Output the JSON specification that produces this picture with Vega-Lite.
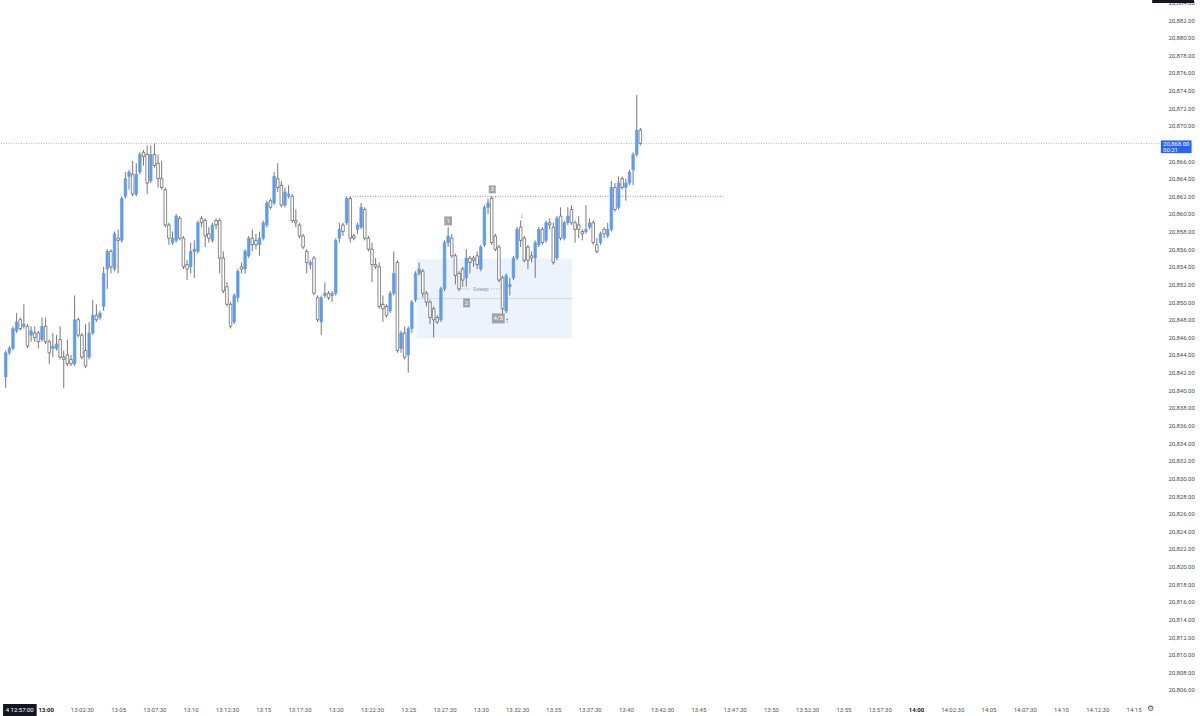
{
  "$schema": "https://vega.github.io/schema/vega-lite/v6.json",
  "width": 1162,
  "height": 703,
  "autosize": "none",
  "padding": {"left": 0, "top": 0, "right": 38, "bottom": 13},
  "background": "#ffffff",
  "config": {
    "view": {"stroke": null},
    "font": "Roboto",
    "axis": {"labelOverlap": false, "labelFlush": false, "labelBound": false, "labelFontSize": 6, "ticks": false, "domain": false, "grid": false, "title": null},
    "axisX": {"labelPadding": 3},
    "axisY": {"labelPadding": 6}
  },
  "data": {
    "format": {"parse": {"t": "utc:'%H:%M:%S'"}},
    "values": [
      {"t":"12:57:15","o":20841.5,"h":20844.5,"l":20840.25,"c":20844.25},
      {"t":"12:57:30","o":20844.25,"h":20845,"l":20844,"c":20844.75},
      {"t":"12:57:45","o":20844.75,"h":20847.25,"l":20844.5,"c":20847},
      {"t":"12:58:00","o":20846.75,"h":20848.75,"l":20846.5,"c":20847.75},
      {"t":"12:58:15","o":20848,"h":20848.25,"l":20846.75,"c":20847},
      {"t":"12:58:30","o":20847.25,"h":20849.75,"l":20847,"c":20847.5},
      {"t":"12:58:45","o":20847.25,"h":20847.5,"l":20844.75,"c":20845},
      {"t":"12:59:00","o":20846.25,"h":20847.25,"l":20845.5,"c":20846.75},
      {"t":"12:59:15","o":20846.5,"h":20847.25,"l":20845.5,"c":20846},
      {"t":"12:59:30","o":20846.5,"h":20846.75,"l":20844.75,"c":20845.5},
      {"t":"12:59:45","o":20845.75,"h":20848.25,"l":20845.5,"c":20847.25},
      {"t":"13:00:00","o":20847.25,"h":20848.25,"l":20845.25,"c":20845.5},
      {"t":"13:00:15","o":20845.5,"h":20845.75,"l":20843,"c":20844.25},
      {"t":"13:00:30","o":20844.75,"h":20846.5,"l":20843.75,"c":20845},
      {"t":"13:00:45","o":20844.75,"h":20846.25,"l":20844.5,"c":20845.25},
      {"t":"13:01:00","o":20845.75,"h":20847.25,"l":20843.5,"c":20843.75},
      {"t":"13:01:15","o":20843.75,"h":20844.5,"l":20840.25,"c":20843.5},
      {"t":"13:01:30","o":20844,"h":20845.75,"l":20842.75,"c":20843},
      {"t":"13:01:45","o":20843.5,"h":20844,"l":20842.75,"c":20843},
      {"t":"13:02:00","o":20843,"h":20850.75,"l":20842.75,"c":20848},
      {"t":"13:02:15","o":20848,"h":20848.25,"l":20846,"c":20846.25},
      {"t":"13:02:30","o":20846.25,"h":20846.5,"l":20843.5,"c":20843.75},
      {"t":"13:02:45","o":20844.5,"h":20847.5,"l":20842.5,"c":20842.75},
      {"t":"13:03:00","o":20843.75,"h":20847.75,"l":20843.5,"c":20846.5},
      {"t":"13:03:15","o":20846.5,"h":20850.25,"l":20846.25,"c":20848.5},
      {"t":"13:03:30","o":20848.5,"h":20849.75,"l":20847.75,"c":20848},
      {"t":"13:03:45","o":20848.25,"h":20849,"l":20848,"c":20848.75},
      {"t":"13:04:00","o":20849.5,"h":20854,"l":20849,"c":20853.25},
      {"t":"13:04:15","o":20853.75,"h":20856,"l":20851.5,"c":20855.75},
      {"t":"13:04:30","o":20855.75,"h":20856,"l":20853.25,"c":20854},
      {"t":"13:04:45","o":20853.75,"h":20858,"l":20853.5,"c":20857.75},
      {"t":"13:05:00","o":20857.25,"h":20858.25,"l":20853.25,"c":20857},
      {"t":"13:05:15","o":20857,"h":20862,"l":20856.75,"c":20861.75},
      {"t":"13:05:30","o":20862,"h":20864.75,"l":20861.75,"c":20864},
      {"t":"13:05:45","o":20864.25,"h":20865,"l":20862.75,"c":20864.75},
      {"t":"13:06:00","o":20864.5,"h":20866,"l":20862,"c":20862.25},
      {"t":"13:06:15","o":20862.25,"h":20865.75,"l":20862,"c":20864.5},
      {"t":"13:06:30","o":20864.75,"h":20867,"l":20864.5,"c":20866.75},
      {"t":"13:06:45","o":20867,"h":20867.25,"l":20865.5,"c":20866.5},
      {"t":"13:07:00","o":20866.75,"h":20867.75,"l":20862.25,"c":20863.5},
      {"t":"13:07:15","o":20863.75,"h":20867.75,"l":20863.5,"c":20866.75},
      {"t":"13:07:30","o":20866.75,"h":20868,"l":20865.25,"c":20865.5},
      {"t":"13:07:45","o":20865.75,"h":20866.75,"l":20863,"c":20864},
      {"t":"13:08:00","o":20864,"h":20866,"l":20862.75,"c":20863},
      {"t":"13:08:15","o":20862.75,"h":20863,"l":20858.5,"c":20858.75},
      {"t":"13:08:30","o":20858.75,"h":20859,"l":20856.5,"c":20857.25},
      {"t":"13:08:45","o":20856.75,"h":20858,"l":20856.5,"c":20857.25},
      {"t":"13:09:00","o":20857,"h":20860,"l":20856.75,"c":20859.75},
      {"t":"13:09:15","o":20859.5,"h":20859.75,"l":20857,"c":20857.25},
      {"t":"13:09:30","o":20857.25,"h":20857.5,"l":20853.75,"c":20854},
      {"t":"13:09:45","o":20854.25,"h":20854.75,"l":20852.5,"c":20853.75},
      {"t":"13:10:00","o":20854,"h":20856.75,"l":20853.25,"c":20855.75},
      {"t":"13:10:15","o":20855.75,"h":20857,"l":20852.75,"c":20856},
      {"t":"13:10:30","o":20855.75,"h":20859.25,"l":20855.5,"c":20859},
      {"t":"13:10:45","o":20859.5,"h":20859.75,"l":20858.5,"c":20859},
      {"t":"13:11:00","o":20859.25,"h":20859.5,"l":20856.25,"c":20857.5},
      {"t":"13:11:15","o":20857.75,"h":20858.5,"l":20856.75,"c":20857.25},
      {"t":"13:11:30","o":20857,"h":20859,"l":20856.75,"c":20858.75},
      {"t":"13:11:45","o":20859.25,"h":20859.5,"l":20858.25,"c":20858.75},
      {"t":"13:12:00","o":20859.25,"h":20859.5,"l":20853.25,"c":20855},
      {"t":"13:12:15","o":20855,"h":20855.75,"l":20851,"c":20851.25},
      {"t":"13:12:30","o":20851.75,"h":20852.25,"l":20849.5,"c":20849.75},
      {"t":"13:12:45","o":20849.75,"h":20850,"l":20847,"c":20847.25},
      {"t":"13:13:00","o":20847.75,"h":20851,"l":20847.5,"c":20850.75},
      {"t":"13:13:15","o":20850.5,"h":20853.75,"l":20850,"c":20853.5},
      {"t":"13:13:30","o":20854,"h":20854.5,"l":20853.25,"c":20853.75},
      {"t":"13:13:45","o":20853.75,"h":20856,"l":20853.25,"c":20855.75},
      {"t":"13:14:00","o":20855.25,"h":20857.5,"l":20855,"c":20857.25},
      {"t":"13:14:15","o":20857.25,"h":20858.25,"l":20855.75,"c":20856.5},
      {"t":"13:14:30","o":20857,"h":20857.75,"l":20856,"c":20856.5},
      {"t":"13:14:45","o":20856.5,"h":20858,"l":20855.25,"c":20857.25},
      {"t":"13:15:00","o":20857.25,"h":20859.25,"l":20857,"c":20859},
      {"t":"13:15:15","o":20858.75,"h":20861.5,"l":20858.5,"c":20861.25},
      {"t":"13:15:30","o":20861.5,"h":20861.75,"l":20860.5,"c":20860.75},
      {"t":"13:15:45","o":20861.25,"h":20864.75,"l":20861,"c":20864.25},
      {"t":"13:16:00","o":20864,"h":20865.75,"l":20862.5,"c":20863},
      {"t":"13:16:15","o":20863.25,"h":20863.75,"l":20860.75,"c":20861},
      {"t":"13:16:30","o":20861,"h":20863,"l":20860.75,"c":20862.5},
      {"t":"13:16:45","o":20862,"h":20863.25,"l":20861.75,"c":20862.25},
      {"t":"13:17:00","o":20862,"h":20862.25,"l":20859,"c":20859.25},
      {"t":"13:17:15","o":20859.25,"h":20860.5,"l":20858.5,"c":20859},
      {"t":"13:17:30","o":20858.75,"h":20859,"l":20857.25,"c":20857.5},
      {"t":"13:17:45","o":20857.5,"h":20857.75,"l":20856,"c":20856.25},
      {"t":"13:18:00","o":20855.75,"h":20856,"l":20853.25,"c":20854.5},
      {"t":"13:18:15","o":20854.25,"h":20854.75,"l":20853.75,"c":20854.5},
      {"t":"13:18:30","o":20855,"h":20855.25,"l":20850.75,"c":20851},
      {"t":"13:18:45","o":20850.5,"h":20850.75,"l":20847.75,"c":20848},
      {"t":"13:19:00","o":20847.75,"h":20850.75,"l":20846.25,"c":20850.5},
      {"t":"13:19:15","o":20850.75,"h":20852.25,"l":20850.5,"c":20851},
      {"t":"13:19:30","o":20851,"h":20851.25,"l":20850.25,"c":20850.5},
      {"t":"13:19:45","o":20850.75,"h":20851.25,"l":20850,"c":20851},
      {"t":"13:20:00","o":20851,"h":20857.25,"l":20850.75,"c":20857},
      {"t":"13:20:15","o":20857.25,"h":20859,"l":20856.75,"c":20858.25},
      {"t":"13:20:30","o":20858.75,"h":20859,"l":20857.5,"c":20858},
      {"t":"13:20:45","o":20859,"h":20862,"l":20858.75,"c":20861.75},
      {"t":"13:21:00","o":20861.75,"h":20862,"l":20856.75,"c":20857.25},
      {"t":"13:21:15","o":20857.5,"h":20857.75,"l":20857,"c":20857.25},
      {"t":"13:21:30","o":20858.25,"h":20859,"l":20857.75,"c":20858.75},
      {"t":"13:21:45","o":20858.5,"h":20861.25,"l":20858.25,"c":20860.75},
      {"t":"13:22:00","o":20860.5,"h":20860.75,"l":20857,"c":20857.25},
      {"t":"13:22:15","o":20857.25,"h":20857.5,"l":20855.75,"c":20856},
      {"t":"13:22:30","o":20856,"h":20856.75,"l":20852.25,"c":20854.25},
      {"t":"13:22:45","o":20854.25,"h":20855,"l":20853.75,"c":20854},
      {"t":"13:23:00","o":20854,"h":20854.5,"l":20849.25,"c":20849.5},
      {"t":"13:23:15","o":20849.75,"h":20850.75,"l":20847.75,"c":20849.25},
      {"t":"13:23:30","o":20849.5,"h":20849.75,"l":20848.25,"c":20848.5},
      {"t":"13:23:45","o":20849,"h":20851.25,"l":20848.75,"c":20851},
      {"t":"13:24:00","o":20851,"h":20855.75,"l":20850.75,"c":20853.25},
      {"t":"13:24:15","o":20854.5,"h":20854.75,"l":20844.25,"c":20844.5},
      {"t":"13:24:30","o":20844.75,"h":20846.75,"l":20844.25,"c":20846.5},
      {"t":"13:24:45","o":20846.5,"h":20847.25,"l":20843.5,"c":20843.75},
      {"t":"13:25:00","o":20844,"h":20847.25,"l":20842,"c":20847},
      {"t":"13:25:15","o":20847,"h":20850.25,"l":20846.5,"c":20850},
      {"t":"13:25:30","o":20850.25,"h":20853.5,"l":20850,"c":20853.25},
      {"t":"13:25:45","o":20853.25,"h":20854.5,"l":20853,"c":20853.75},
      {"t":"13:26:00","o":20853.5,"h":20853.75,"l":20850.5,"c":20851},
      {"t":"13:26:15","o":20851,"h":20851.25,"l":20849.5,"c":20850},
      {"t":"13:26:30","o":20850,"h":20850.25,"l":20847.5,"c":20848.25},
      {"t":"13:26:45","o":20849.25,"h":20849.5,"l":20846,"c":20848},
      {"t":"13:27:00","o":20848.25,"h":20848.5,"l":20847.5,"c":20847.75},
      {"t":"13:27:15","o":20848,"h":20851.75,"l":20847.75,"c":20851.5},
      {"t":"13:27:30","o":20851.5,"h":20857,"l":20851.25,"c":20856.75},
      {"t":"13:27:45","o":20856.75,"h":20858.5,"l":20856.25,"c":20857.5},
      {"t":"13:28:00","o":20857.25,"h":20857.75,"l":20855,"c":20855.25},
      {"t":"13:28:15","o":20855.25,"h":20855.5,"l":20852,"c":20853},
      {"t":"13:28:30","o":20853.25,"h":20853.5,"l":20851.25,"c":20851.5},
      {"t":"13:28:45","o":20853.75,"h":20854,"l":20851.75,"c":20852.5},
      {"t":"13:29:00","o":20852.75,"h":20856,"l":20851.75,"c":20855},
      {"t":"13:29:15","o":20855,"h":20855.25,"l":20853.25,"c":20854.5},
      {"t":"13:29:30","o":20855,"h":20855.25,"l":20854,"c":20854.75},
      {"t":"13:29:45","o":20855.25,"h":20855.75,"l":20853.75,"c":20854.25},
      {"t":"13:30:00","o":20853.75,"h":20856.5,"l":20853.5,"c":20856.25},
      {"t":"13:30:15","o":20856.5,"h":20861,"l":20856.25,"c":20860.75},
      {"t":"13:30:30","o":20860.75,"h":20861.75,"l":20860,"c":20861.25},
      {"t":"13:30:45","o":20861.75,"h":20862,"l":20856.5,"c":20856.75},
      {"t":"13:31:00","o":20857.5,"h":20857.75,"l":20855.75,"c":20856},
      {"t":"13:31:15","o":20856.25,"h":20856.5,"l":20852.25,"c":20852.5},
      {"t":"13:31:30","o":20852.75,"h":20853,"l":20848.5,"c":20849.25},
      {"t":"13:31:45","o":20849,"h":20853.25,"l":20848.75,"c":20853},
      {"t":"13:32:00","o":20851.75,"h":20852.75,"l":20850.75,"c":20852},
      {"t":"13:32:15","o":20852.75,"h":20855.25,"l":20852.5,"c":20855},
      {"t":"13:32:30","o":20855,"h":20858.5,"l":20854.75,"c":20858.25},
      {"t":"13:32:45","o":20858.5,"h":20859.25,"l":20856.25,"c":20857},
      {"t":"13:33:00","o":20857.25,"h":20857.5,"l":20854.5,"c":20854.75},
      {"t":"13:33:15","o":20856.25,"h":20856.5,"l":20853.75,"c":20854.75},
      {"t":"13:33:30","o":20855.25,"h":20855.75,"l":20854.5,"c":20855},
      {"t":"13:33:45","o":20855,"h":20857,"l":20852.75,"c":20856.75},
      {"t":"13:34:00","o":20856.5,"h":20858.5,"l":20856.25,"c":20858.25},
      {"t":"13:34:15","o":20858.25,"h":20858.5,"l":20856.5,"c":20856.75},
      {"t":"13:34:30","o":20857,"h":20859.25,"l":20856.75,"c":20859},
      {"t":"13:34:45","o":20859,"h":20859.5,"l":20858.25,"c":20858.75},
      {"t":"13:35:00","o":20858.5,"h":20859,"l":20854.25,"c":20854.5},
      {"t":"13:35:15","o":20855,"h":20859.75,"l":20854.75,"c":20859.5},
      {"t":"13:35:30","o":20859.75,"h":20860.75,"l":20857,"c":20857.25},
      {"t":"13:35:45","o":20857.25,"h":20859.25,"l":20857,"c":20859},
      {"t":"13:36:00","o":20859,"h":20860.75,"l":20858.75,"c":20859.75},
      {"t":"13:36:15","o":20860.5,"h":20861,"l":20858.75,"c":20859},
      {"t":"13:36:30","o":20859,"h":20859.25,"l":20856.75,"c":20858.25},
      {"t":"13:36:45","o":20858.75,"h":20859.75,"l":20857.25,"c":20858.25},
      {"t":"13:37:00","o":20858,"h":20858.25,"l":20857,"c":20857.75},
      {"t":"13:37:15","o":20858,"h":20861,"l":20857.75,"c":20858.25},
      {"t":"13:37:30","o":20858.5,"h":20859.5,"l":20858.25,"c":20859},
      {"t":"13:37:45","o":20859,"h":20859.25,"l":20856.5,"c":20856.75},
      {"t":"13:38:00","o":20856.5,"h":20857.25,"l":20855.5,"c":20855.75},
      {"t":"13:38:15","o":20856.75,"h":20858,"l":20856.5,"c":20857.75},
      {"t":"13:38:30","o":20858.25,"h":20858.5,"l":20857.25,"c":20857.75},
      {"t":"13:38:45","o":20857.5,"h":20859,"l":20857.25,"c":20858.25},
      {"t":"13:39:00","o":20858.25,"h":20863.75,"l":20858,"c":20863},
      {"t":"13:39:15","o":20863,"h":20863.5,"l":20860.25,"c":20860.5},
      {"t":"13:39:30","o":20860.75,"h":20864.25,"l":20860.5,"c":20863.5},
      {"t":"13:39:45","o":20864,"h":20864.25,"l":20862.75,"c":20863},
      {"t":"13:40:00","o":20863,"h":20864,"l":20861.5,"c":20863.5},
      {"t":"13:40:15","o":20863.5,"h":20865,"l":20863.25,"c":20864.75},
      {"t":"13:40:30","o":20865,"h":20867,"l":20863.25,"c":20866.75},
      {"t":"13:40:45","o":20866.75,"h":20873.5,"l":20866.5,"c":20869.5},
      {"t":"13:41:00","o":20869.5,"h":20869.75,"l":20867.75,"c":20868}
    ]
  },
  "layer": [
    {
      "data": {
        "format": {"parse": {"t": "utc:'%H:%M:%S'", "t2": "utc:'%H:%M:%S'"}},
        "values": [{"t": "13:25:34", "t2": "13:36:18", "p": 20845.9, "p2": 20854.9}]
      },
      "mark": {"type": "rect", "fill": "#ecf3fd"},
      "encoding": {
        "x": {
          "field": "t",
          "type": "temporal",
          "title": null,
          "scale": {
            "type": "utc",
            "domain": [
              {"year": 1900, "hours": 12, "minutes": 57, "seconds": 12, "utc": true},
              {"year": 1900, "hours": 14, "minutes": 16, "seconds": 37, "utc": true}
            ]
          },
          "axis": {
            "orient": "bottom",
            "tickCount": 500,
            "labelOverlap": false,
            "labelColor": {"condition": {"test": "utcminutes(datum.value) == 0 && utcseconds(datum.value) == 0", "value": "#131722"}, "value": "#555555"},
            "labelFontWeight": {"condition": {"test": "utcminutes(datum.value) == 0 && utcseconds(datum.value) == 0", "value": "bold"}, "value": "normal"},
            "labelExpr": "utcFormat(datum.value, utcseconds(datum.value) ? '%H:%M:%S' : '%H:%M')",
            "values": [
              {"year": 1900, "hours": 13, "minutes": 0, "utc": true},
              {"year": 1900, "hours": 13, "minutes": 2, "seconds": 30, "utc": true},
              {"year": 1900, "hours": 13, "minutes": 5, "utc": true},
              {"year": 1900, "hours": 13, "minutes": 7, "seconds": 30, "utc": true},
              {"year": 1900, "hours": 13, "minutes": 10, "utc": true},
              {"year": 1900, "hours": 13, "minutes": 12, "seconds": 30, "utc": true},
              {"year": 1900, "hours": 13, "minutes": 15, "utc": true},
              {"year": 1900, "hours": 13, "minutes": 17, "seconds": 30, "utc": true},
              {"year": 1900, "hours": 13, "minutes": 20, "utc": true},
              {"year": 1900, "hours": 13, "minutes": 22, "seconds": 30, "utc": true},
              {"year": 1900, "hours": 13, "minutes": 25, "utc": true},
              {"year": 1900, "hours": 13, "minutes": 27, "seconds": 30, "utc": true},
              {"year": 1900, "hours": 13, "minutes": 30, "utc": true},
              {"year": 1900, "hours": 13, "minutes": 32, "seconds": 30, "utc": true},
              {"year": 1900, "hours": 13, "minutes": 35, "utc": true},
              {"year": 1900, "hours": 13, "minutes": 37, "seconds": 30, "utc": true},
              {"year": 1900, "hours": 13, "minutes": 40, "utc": true},
              {"year": 1900, "hours": 13, "minutes": 42, "seconds": 30, "utc": true},
              {"year": 1900, "hours": 13, "minutes": 45, "utc": true},
              {"year": 1900, "hours": 13, "minutes": 47, "seconds": 30, "utc": true},
              {"year": 1900, "hours": 13, "minutes": 50, "utc": true},
              {"year": 1900, "hours": 13, "minutes": 52, "seconds": 30, "utc": true},
              {"year": 1900, "hours": 13, "minutes": 55, "utc": true},
              {"year": 1900, "hours": 13, "minutes": 57, "seconds": 30, "utc": true},
              {"year": 1900, "hours": 14, "minutes": 0, "utc": true},
              {"year": 1900, "hours": 14, "minutes": 2, "seconds": 30, "utc": true},
              {"year": 1900, "hours": 14, "minutes": 5, "utc": true},
              {"year": 1900, "hours": 14, "minutes": 7, "seconds": 30, "utc": true},
              {"year": 1900, "hours": 14, "minutes": 10, "utc": true},
              {"year": 1900, "hours": 14, "minutes": 12, "seconds": 30, "utc": true},
              {"year": 1900, "hours": 14, "minutes": 15, "utc": true}
            ]
          }
        },
        "x2": {"field": "t2"},
        "y": {
          "field": "p",
          "type": "quantitative",
          "title": null,
          "scale": {"domain": [20804.52, 20884.27], "nice": false, "zero": false},
          "axis": {
            "orient": "right",
            "tickCount": 500,
            "labelOverlap": false,
            "labelColor": "#4a4a4a",
            "format": ",.2f",
            "values": [20806, 20808, 20810, 20812, 20814, 20816, 20818, 20820, 20822, 20824, 20826, 20828, 20830, 20832, 20834, 20836, 20838, 20840, 20842, 20844, 20846, 20848, 20850, 20852, 20854, 20856, 20858, 20860, 20862, 20864, 20866, 20870, 20872, 20874, 20876, 20878, 20880, 20882, 20884]
          }
        },
        "y2": {"field": "p2"}
      }
    },
    {
      "data": {
        "format": {"parse": {"t": "utc:'%H:%M:%S'", "t2": "utc:'%H:%M:%S'"}},
        "values": [{"t": "13:25:34", "t2": "13:36:18", "p": 20850.4}]
      },
      "mark": {"type": "rule", "color": "#c3cad6", "strokeWidth": 0.6},
      "encoding": {
        "x": {"field": "t", "type": "temporal", "title": null},
        "x2": {"field": "t2"},
        "y": {"field": "p", "type": "quantitative", "title": null}
      }
    },
    {
      "data": {"values": [{"p": 20868}]},
      "mark": {"type": "rule", "color": "#a9bbec", "strokeWidth": 1, "strokeDash": [1, 1.5]},
      "encoding": {
        "y": {"field": "p", "type": "quantitative", "title": null}
      }
    },
    {
      "data": {
        "format": {"parse": {"t": "utc:'%H:%M:%S'", "t2": "utc:'%H:%M:%S'"}},
        "values": [{"t": "13:20:59", "t2": "13:46:49", "p": 20862}]
      },
      "mark": {"type": "rule", "color": "#7598ea", "strokeWidth": 1, "strokeDash": [1, 1.5]},
      "encoding": {
        "x": {"field": "t", "type": "temporal", "title": null},
        "x2": {"field": "t2"},
        "y": {"field": "p", "type": "quantitative", "title": null}
      }
    },
    {
      "data": {
        "format": {"parse": {"t": "utc:'%H:%M:%S'", "t2": "utc:'%H:%M:%S'"}},
        "values": [
          {"t": "13:28:38", "t2": "13:29:17", "p": 20851.5},
          {"t": "13:30:43", "t2": "13:31:22", "p": 20851.5}
        ]
      },
      "mark": {"type": "rule", "color": "#9aa0a6", "strokeWidth": 0.8, "strokeDash": [1, 1.5]},
      "encoding": {
        "x": {"field": "t", "type": "temporal", "title": null},
        "x2": {"field": "t2"},
        "y": {"field": "p", "type": "quantitative", "title": null}
      }
    },
    {
      "mark": {"type": "rule", "color": "#555555", "strokeWidth": 0.8},
      "encoding": {
        "x": {"field": "t", "type": "temporal", "title": null},
        "y": {"field": "l", "type": "quantitative", "title": null},
        "y2": {"field": "h"}
      }
    },
    {
      "mark": {"type": "bar", "width": 2.6, "strokeWidth": 0.6},
      "encoding": {
        "x": {"field": "t", "type": "temporal", "title": null},
        "y": {"field": "o", "type": "quantitative", "title": null},
        "y2": {"field": "c"},
        "fill": {"condition": {"test": "datum.c > datum.o", "value": "#5b9bf0"}, "value": "#ffffff"},
        "stroke": {"condition": {"test": "datum.c > datum.o", "value": "#5b9bf0"}, "value": "#3c3c3c"}
      }
    },
    {
      "data": {
        "format": {"parse": {"t": "utc:'%H:%M:%S'", "t2": "utc:'%H:%M:%S'"}},
        "values": [
          {"t": "13:27:29", "t2": "13:28:01", "p": 20858.7, "p2": 20859.72, "col": "#a3a3a3"},
          {"t": "13:28:47", "t2": "13:29:15", "p": 20849.4, "p2": 20850.42, "col": "#a3a3a3"},
          {"t": "13:30:33", "t2": "13:31:02", "p": 20862.33, "p2": 20863.24, "col": "#a3a3a3"},
          {"t": "13:30:46", "t2": "13:31:39", "p": 20847.58, "p2": 20848.72, "col": "#a3a3a3"},
          {"t": "14:16:53", "t2": "14:19:00", "p": 20866.9, "p2": 20868.34, "col": "#2962ff"},
          {"t": "14:16:17", "t2": "14:19:10", "p": 20883.93, "p2": 20886, "col": "#131722"},
          {"t": "12:57:04", "t2": "12:59:23", "p": 20802.5, "p2": 20804.41, "col": "#131722"}
        ]
      },
      "mark": {"type": "rect"},
      "encoding": {
        "x": {"field": "t", "type": "temporal", "title": null},
        "x2": {"field": "t2"},
        "y": {"field": "p", "type": "quantitative", "title": null},
        "y2": {"field": "p2"},
        "color": {"field": "col", "type": "nominal", "scale": null}
      }
    },
    {
      "data": {
        "format": {"parse": {"t": "utc:'%H:%M:%S'"}},
        "values": [
          {"t": "13:27:45", "p": 20859.21, "label": "1", "col": "#ffffff", "size": 6},
          {"t": "13:29:01", "p": 20849.91, "label": "2", "col": "#ffffff", "size": 6},
          {"t": "13:30:47", "p": 20862.78, "label": "3", "col": "#ffffff", "size": 6},
          {"t": "13:31:12", "p": 20848.15, "label": "4/5", "col": "#ffffff", "size": 6},
          {"t": "13:30:00", "p": 20851.5, "label": "Sweep", "col": "#9aa0a6", "size": 5.5},
          {"t": "13:32:49", "p": 20859.8, "label": "↓", "col": "#f23645", "size": 8},
          {"t": "13:31:47", "p": 20847.9, "label": "↑", "col": "#2962ff", "size": 8},
          {"t": "14:16:09", "p": 20803.84, "label": "⚙", "col": "#555555", "size": 8}
        ]
      },
      "mark": {"type": "text", "align": "center", "baseline": "middle"},
      "encoding": {
        "x": {"field": "t", "type": "temporal", "title": null},
        "y": {"field": "p", "type": "quantitative", "title": null},
        "text": {"field": "label"},
        "color": {"field": "col", "type": "nominal", "scale": null},
        "size": {"field": "size", "type": "quantitative", "scale": null}
      }
    },
    {
      "data": {
        "format": {"parse": {"t": "utc:'%H:%M:%S'"}},
        "values": [
          {"t": "14:17:02", "p": 20867.98, "label": "20,868.00"},
          {"t": "14:17:02", "p": 20867.28, "label": "00:21"},
          {"t": "12:57:15", "p": 20803.78, "label": "4  12:57:00"}
        ]
      },
      "mark": {"type": "text", "align": "left", "baseline": "middle", "fontSize": 6, "color": "#ffffff"},
      "encoding": {
        "x": {"field": "t", "type": "temporal", "title": null},
        "y": {"field": "p", "type": "quantitative", "title": null},
        "text": {"field": "label"}
      }
    }
  ]
}
